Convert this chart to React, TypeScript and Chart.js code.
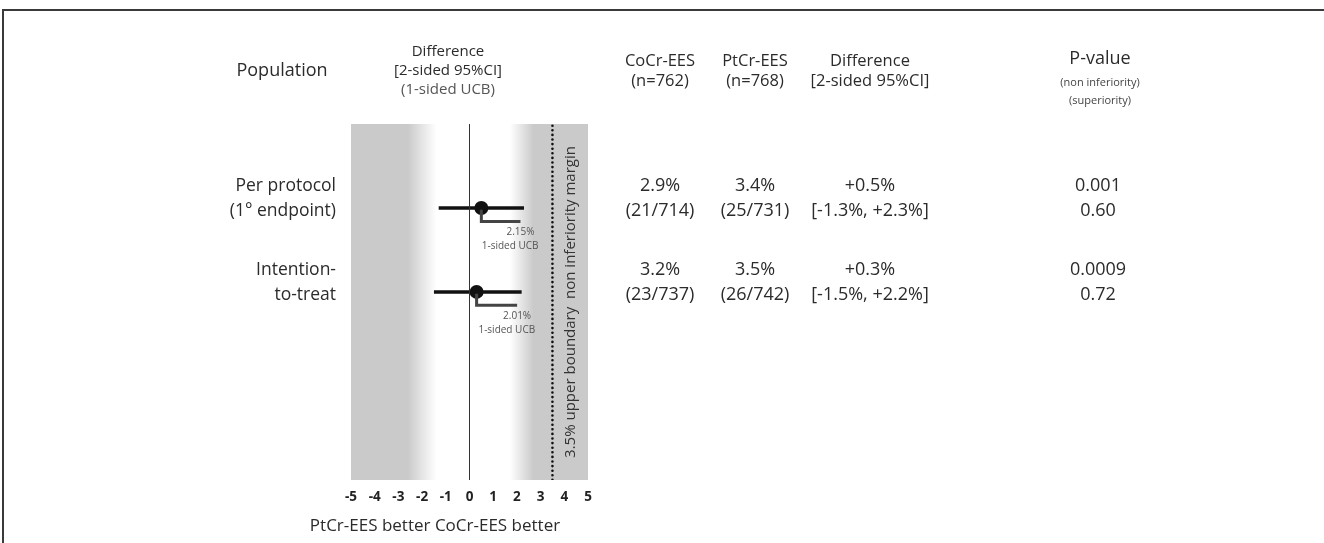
import React, { useEffect, useRef } from "react";
import { Chart, registerables } from "chart.js";
Chart.register(...registerables);

// ---- data ----
const populationLine1 = ["Per protocol", "Intention-"];
const populationLine2 = ["(1° endpoint)", "to-treat"];
const rowPos = [1, 2];
const estimates = [0.5, 0.3];
const ciLower = [-1.3, -1.5];
const ciUpper = [2.3, 2.2];
const ucbValues = [2.15, 2.01];
const ucbLabels = ["2.15%", "2.01%"];
const cocrRates = ["2.9%", "3.2%"];
const cocrCounts = ["(21/714)", "(23/737)"];
const ptcrRates = ["3.4%", "3.5%"];
const ptcrCounts = ["(25/731)", "(26/742)"];
const diffValues = ["+0.5%", "+0.3%"];
const diffCIs = ["[-1.3%, +2.3%]", "[-1.5%, +2.2%]"];
const pNonInferiority = ["0.001", "0.0009"];
const pSuperiority = ["0.60", "0.72"];
const marginValue = 3.5;
const xMin = -5;
const xMax = 5;
const yMax = 4.24;
const ucbOffset = 0.16;

const FONT = "'Open Sans', 'Noto Sans', sans-serif";
const TEXT = "#2b2b2b";

export default function App() {
  const ref = useRef<HTMLCanvasElement | null>(null);

  useEffect(() => {
    document.body.style.margin = "0";
    const canvas = ref.current!;
    const datasets: any[] = [];
    datasets.push({
      data: [{ x: 0, y: 0 }, { x: 0, y: yMax }],
      showLine: true, borderColor: "#333", borderWidth: 1, pointRadius: 0,
    });
    datasets.push({
      data: [{ x: marginValue, y: 0.02 }, { x: marginValue, y: yMax }],
      showLine: true, borderColor: "#111", borderWidth: 2.6, pointRadius: 0,
      borderDash: [0, 4.6], borderCapStyle: "round",
    });
    rowPos.forEach((r, i) => {
      datasets.push({
        data: [{ x: ciLower[i], y: r }, { x: ciUpper[i], y: r }],
        showLine: true, borderColor: "#111", borderWidth: 3.5, pointRadius: 0,
      });
      datasets.push({
        data: [
          { x: estimates[i], y: r },
          { x: estimates[i], y: r + ucbOffset },
          { x: ucbValues[i], y: r + ucbOffset },
        ],
        showLine: true, borderColor: "#444", borderWidth: 3, pointRadius: 0,
      });
    });
    datasets.push({
      data: rowPos.map((r, i) => ({ x: estimates[i], y: r })),
      showLine: false, pointRadius: 7, pointBackgroundColor: "#111",
      pointBorderColor: "#111", borderWidth: 0,
    });

    const plugin = {
      id: "forestDecor",
      beforeDraw(chart: any) {
        const ctx = chart.ctx;
        ctx.save();
        ctx.fillStyle = "#fff";
        ctx.fillRect(0, 0, chart.width, chart.height);
        ctx.strokeStyle = "#3a3a3a";
        ctx.lineWidth = 2;
        ctx.beginPath();
        ctx.moveTo(3, 543);
        ctx.lineTo(3, 10);
        ctx.lineTo(1324, 10);
        ctx.stroke();
        ctx.restore();
      },
      beforeDatasetsDraw(chart: any) {
        const { ctx, chartArea: a, scales } = chart;
        const xs = scales.x;
        const w = a.right - a.left;
        const f = (v: number) => (xs.getPixelForValue(v) - a.left) / w;
        const g = ctx.createLinearGradient(a.left, 0, a.right, 0);
        const gray = "rgb(202,202,202)";
        g.addColorStop(0, gray);
        g.addColorStop(f(-2.6), gray);
        g.addColorStop(f(-1.4), "rgb(255,255,255)");
        g.addColorStop(f(1.7), "rgb(255,255,255)");
        g.addColorStop(f(2.7), gray);
        g.addColorStop(1, gray);
        ctx.save();
        ctx.fillStyle = g;
        ctx.fillRect(a.left, a.top, w, a.bottom - a.top);
        ctx.restore();
      },
      afterDatasetsDraw(chart: any) {
        const { ctx, chartArea: a, scales } = chart;
        const xs = scales.x, ys = scales.y;
        ctx.save();
        ctx.translate(xs.getPixelForValue(marginValue) + 18, (a.top + a.bottom) / 2);
        ctx.rotate(-Math.PI / 2);
        ctx.fillStyle = "#333";
        ctx.font = `15px ${FONT}`;
        ctx.textAlign = "center";
        ctx.textBaseline = "middle";
        ctx.fillText("3.5% upper boundary  non inferiority margin", 0, 0);
        ctx.restore();
        ctx.save();
        ctx.fillStyle = "#555";
        ctx.font = `10px ${FONT}`;
        ctx.textAlign = "right";
        ctx.textBaseline = "middle";
        rowPos.forEach((r, i) => {
          const px = xs.getPixelForValue(ucbValues[i]) + 14;
          const py = ys.getPixelForValue(r);
          ctx.fillText(ucbLabels[i], px, py + 24);
          ctx.fillText("1-sided UCB", px + 4, py + 38);
        });
        ctx.restore();
      },
      afterDraw(chart: any) {
        const { ctx, scales } = chart;
        const ys = scales.y;
        ctx.save();
        ctx.fillStyle = TEXT;
        ctx.textBaseline = "middle";
        ctx.textAlign = "center";
        // headers
        ctx.font = `18px ${FONT}`;
        ctx.fillText("Population", 282, 71);
        ctx.font = `15px ${FONT}`;
        ctx.fillText("Difference", 448, 52);
        ctx.fillText("[2-sided 95%CI]", 448, 71);
        ctx.fillStyle = "#555";
        ctx.fillText("(1-sided UCB)", 448, 90);
        ctx.fillStyle = TEXT;
        ctx.font = `16.5px ${FONT}`;
        ctx.fillText("CoCr-EES", 660, 61);
        ctx.fillText("(n=762)", 660, 81);
        ctx.fillText("PtCr-EES", 755, 61);
        ctx.fillText("(n=768)", 755, 81);
        ctx.fillText("Difference", 870, 61);
        ctx.fillText("[2-sided 95%CI]", 870, 81);
        ctx.font = `18px ${FONT}`;
        ctx.fillText("P-value", 1100, 59);
        ctx.font = `11px ${FONT}`;
        ctx.fillStyle = "#444";
        ctx.fillText("(non inferiority)", 1100, 83);
        ctx.fillText("(superiority)", 1100, 101);
        ctx.fillStyle = TEXT;
        // rows
        rowPos.forEach((r, i) => {
          const yc = ys.getPixelForValue(r);
          const y1 = yc - 22;
          const y2 = yc + 3;
          ctx.font = `17.5px ${FONT}`;
          ctx.textAlign = "right";
          ctx.fillText(populationLine1[i], 336, y1);
          ctx.fillText(populationLine2[i], 336, y2);
          ctx.textAlign = "center";
          ctx.font = `18px ${FONT}`;
          ctx.fillText(cocrRates[i], 660, y1);
          ctx.fillText(cocrCounts[i], 660, y2);
          ctx.fillText(ptcrRates[i], 755, y1);
          ctx.fillText(ptcrCounts[i], 755, y2);
          ctx.fillText(diffValues[i], 870, y1);
          ctx.fillText(diffCIs[i], 870, y2);
          ctx.fillText(pNonInferiority[i], 1098, y1);
          ctx.fillText(pSuperiority[i], 1098, y2);
        });
        // bottom caption
        ctx.font = `17px ${FONT}`;
        ctx.textAlign = "center";
        ctx.fillText("PtCr-EES better CoCr-EES better", 435, 526);
        ctx.restore();
      },
    };

    const chart = new Chart(canvas, {
      type: "scatter",
      data: { datasets },
      options: {
        responsive: false,
        animation: false,
        events: [],
        layout: { padding: { top: 124, left: 351, right: 736, bottom: 33 } },
        plugins: { legend: { display: false }, tooltip: { enabled: false } },
        scales: {
          x: {
            type: "linear",
            min: xMin,
            max: xMax,
            afterFit: (s: any) => { s.height = 30; },
            grid: { display: false, drawTicks: false },
            border: { display: false },
            ticks: {
              stepSize: 1,
              padding: 9,
              color: "#222",
              font: { family: FONT, size: 13.5, weight: "bold" },
              callback: (v: any) => String(v),
            },
          },
          y: {
            type: "linear",
            display: false,
            min: 0,
            max: yMax,
            reverse: true,
          },
        },
      },
      plugins: [plugin],
    });
    return () => chart.destroy();
  }, []);

  return (
    <div style={{ width: 1324, height: 543 }}>
      <canvas ref={ref} width={1324} height={543} style={{ display: "block" }} />
    </div>
  );
}
